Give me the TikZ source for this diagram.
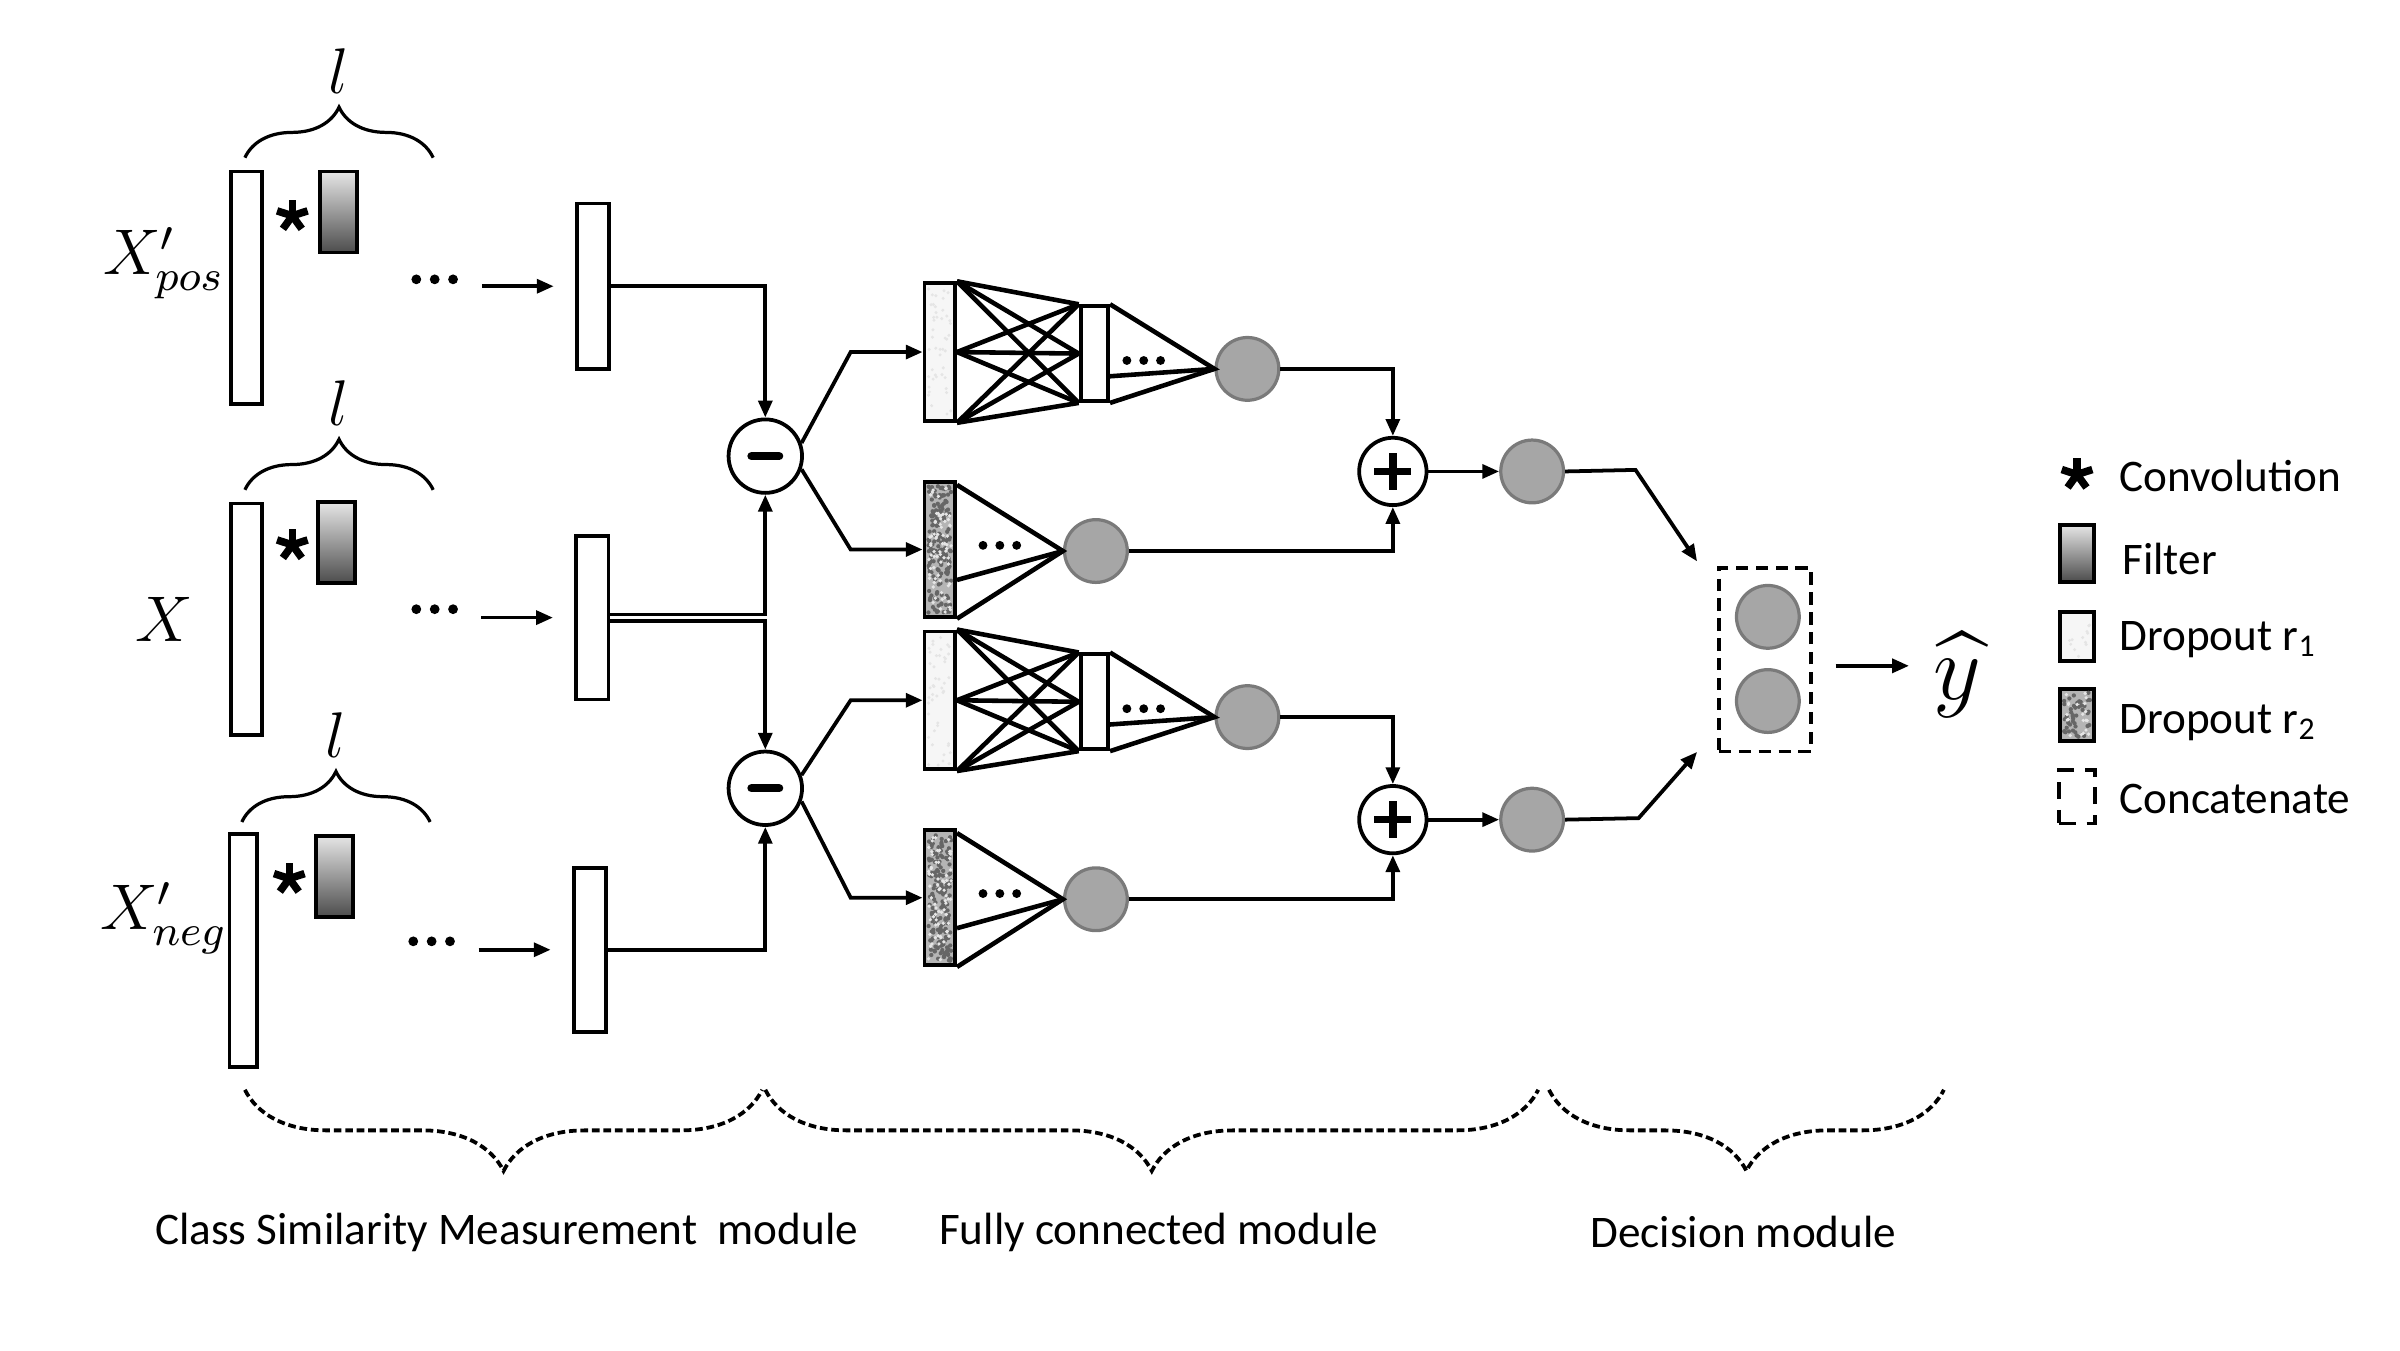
\documentclass[tikz,border=0pt]{standalone}
\usepackage{amsmath}
\usepackage{fontspec}
\setmainfont{Carlito}
\usetikzlibrary{arrows.meta,calc,positioning}
\usetikzlibrary{decorations.pathreplacing}

\definecolor{unitfill}{HTML}{A6A6A6}
\definecolor{unitedge}{HTML}{7A7A7A}

\tikzset{
  line/.style={line width=0.7pt},
  fcline/.style={line width=0.85pt},
  arr/.style={line width=0.7pt,-{Triangle[length=1.1mm,width=0.9mm]}},
  vecbar/.style={draw,line width=0.7pt,fill=white,inner sep=0pt,minimum width=2mm},
  filterbar/.style={draw,line width=0.7pt,top color=gray!20,bottom color=black!70,inner sep=0pt,minimum width=2.4mm,minimum height=5.3mm},
  dropone/.style={vecbar,fill=gray!7},
  droptwo/.style={vecbar,fill=gray!58},
  op/.style={circle,draw,line width=0.7pt,fill=white,inner sep=0pt,minimum size=4.8mm},
  unit/.style={circle,draw=unitedge,line width=0.6pt,fill=unitfill,inner sep=0pt,minimum size=4.1mm},
  lbl/.style={font=\fontsize{8.4}{10}\selectfont,inner sep=0pt},
  mathlbl/.style={font=\fontsize{11.5}{13}\selectfont,inner sep=0pt},
  dashbrace/.style={line width=0.7pt,dash pattern=on 0.5mm off 0.25mm,decorate,decoration={brace,mirror,amplitude=5.3mm}}
}

% asterisk for the convolution
\newcommand{\convstar}[1]{\foreach \a in {-90,-18,54,126,198} \draw[line width=1.4pt] (#1) -- ++(\a:10.5);}
% texture of a dropout bar: x, y, width, height, colour, count, dot radius
\newcommand{\speckle}[7]{\foreach \k in {1,...,#6} \fill[#5] ({#1+2.5+rnd*(#3-5)},{#2+2.5+rnd*(#4-5)}) circle (#7);}

\begin{document}
\begin{tikzpicture}[x=0.1mm,y=-0.1mm]
  \pgfmathsetseed{11}
  \useasboundingbox (0,0) rectangle (1568,882);

  %% inputs and convolution
  \node[mathlbl] (lblpos) at (107,172) {$X'_{pos}$};
  \node[mathlbl] (lblx) at (107,405) {$X$};
  \node[mathlbl] (lblneg) at (107,600) {$X'_{neg}$};

  \node[vecbar, minimum height=15.2mm] (barpos) at (161,188) {};
  \node[vecbar, minimum height=15.1mm] (barx) at (161,404.5) {};
  \node[vecbar, minimum width=1.8mm, minimum height=15.2mm] (barneg) at (159,621) {};

  \node[filterbar] (filpos) at (221,138.5) {};
  \node[filterbar] (filx) at (220,354.5) {};
  \node[filterbar] (filneg) at (218.5,572.5) {};

  \convstar{191,141}
  \convstar{191,356}
  \convstar{189,574}

  \draw[line width=0.6pt,decorate,decoration={brace,amplitude=3.3mm}] (160,103) -- (283,103)
        node[mathlbl, midway, above=4.1mm] (lenpos) {$l$};
  \draw[line width=0.6pt,decorate,decoration={brace,amplitude=3.3mm}] (160,320) -- (283,320)
        node[mathlbl, midway, above=4.1mm] (lenx) {$l$};
  \draw[line width=0.6pt,decorate,decoration={brace,amplitude=3.3mm}] (158,537) -- (281,537)
        node[mathlbl, midway, above=4.1mm] (lenneg) {$l$};

  \foreach \d in {272,284,296}
  {
    \fill (\d,182.5) circle (3.2);
    \fill (\d,398) circle (3.2);
    \fill (\d-2,615) circle (3.2);
  }

  \node[vecbar, minimum width=2.1mm, minimum height=10.8mm] (convpos) at (387.5,187) {};
  \node[vecbar, minimum width=2.1mm, minimum height=10.7mm] (convx) at (387,403.5) {};
  \node[vecbar, minimum width=2.1mm, minimum height=10.7mm] (convneg) at (385.5,620.5) {};

  \foreach \r in {pos,x,neg}
    \draw[arr] ($(conv\r.west)+(-61,0)$) -- ($(conv\r.west)+(-14,0)$);

  %% difference
  \node[op] (minus1) at (500,298) {};
  \node[op] (minus2) at (500,515) {};
  \foreach \m in {1,2}
    \draw[line width=0.55mm, line cap=round] ($(minus\m)+(-9,0)$) -- ($(minus\m)+(9,0)$);

  \draw[arr] (convpos.east) -| (minus1.north);
  \draw[arr] ($(convx.east)+(0,-2)$) -| (minus1.south);
  \draw[arr] ($(convx.east)+(0,2)$) -| (minus2.north);
  \draw[arr] (convneg.east) -| (minus2.south);

  %% fully connected
  \foreach \s/\dy in {1/0,2/227.5}
  {
    \node[dropone, minimum height=9mm] (drA\s) at (614,{230+\dy}) {};
    \speckle{604}{185+\dy}{20}{90}{gray!20}{45}{1.1}
    \node[vecbar, minimum width=1.8mm, minimum height=6.2mm] (hid\s) at (715,{231+\dy}) {};
    \node[unit] (outA\s) at (815,{241+\dy}) {};
    \node[droptwo, minimum height=8.8mm] (drB\s) at (614,{359+\dy}) {};
    \speckle{604}{315+\dy}{20}{88}{black!60}{170}{1.4}
    \speckle{604}{315+\dy}{20}{88}{gray!20}{70}{1.2}
    \node[unit] (outB\s) at (716,{360+\dy}) {};
    \node[op, minimum size=4.4mm] (plus\s) at (910,{308+\dy}) {};
    \node[unit] (sum\s) at (1001,{308+\dy}) {};

    \draw[arr] (minus\s.20) -- ($(drA\s.west)+(-47,0)$) -- (drA\s.west);
    \draw[arr] (minus\s.-20) -- ($(drB\s.west)+(-47,0)$) -- (drB\s.west);

    \foreach \a in {north east,east,south east}
      \foreach \b in {north west,west,south west}
        \draw[fcline] (drA\s.\a) -- (hid\s.\b);

    \draw[fcline] (hid\s.north east) -- (outA\s.west) -- (hid\s.south east);
    \draw[fcline] ($(hid\s.north east)!0.73!(hid\s.south east)$) -- (outA\s.west);
    \draw[fcline] ($(drB\s.north east)+(0,3)$) -- (outB\s.west) -- (drB\s.south east);
    \draw[fcline] ($(drB\s.north east)!0.72!(drB\s.south east)$) -- (outB\s.west);
    \foreach \d in {11,22,33}
      \fill ($(hid\s.north east)!0.57!(hid\s.south east)+(\d,0)$) circle (2.9);
    \foreach \d in {17,28,39}
      \fill ($(drB\s.north east)!0.47!(drB\s.south east)+(\d,0)$) circle (2.9);

    \draw[line width=0.5mm] ($(plus\s)+(-12,0)$) -- ($(plus\s)+(12,0)$)
                            ($(plus\s)+(0,-12)$) -- ($(plus\s)+(0,12)$);
    \draw[arr] (outA\s.east) -| (plus\s.north);
    \draw[arr] (outB\s.east) -| (plus\s.south);
    \draw[arr] (plus\s.east) -- (sum\s.west);
  }

  %% decision
  \node[draw, line width=0.7pt, dash pattern=on 0.8mm off 0.5mm, minimum width=6mm, minimum height=12mm] (cat) at (1153,431) {};
  \node[unit] (cat1) at (1155,403) {};
  \node[unit] (cat2) at (1155,458) {};
  \draw[arr] (sum1.east) -- ++(46,-1) -- ($(cat.north west)+(-13,-3)$);
  \draw[arr] (sum2.east) -- ++(48,-1) -- ($(cat.south west)+(-13,-1)$);
  \node[font=\fontsize{16.5}{18}\selectfont, inner sep=0pt] (yhat) at (1279,441) {$\widehat{y}$};
  \draw[arr] ($(cat.east)+(15,4)$) -- ++(48,0);

  %% legend
  \convstar{1357,310}
  \node[lbl, anchor=west] (legconv) at (1384,311) {Convolution};
  \node[filterbar, minimum width=2.2mm, minimum height=3.7mm] (legfil) at (1357,361.5) {};
  \node[lbl, anchor=west] (legfiltxt) at (1386,365) {Filter};
  \node[dropone, minimum width=2.2mm, minimum height=3.2mm] (legdrop1) at (1357,416) {};
  \speckle{1346}{400}{22}{32}{gray!20}{12}{1.1}
  \node[lbl, anchor=west] (legdrop1txt) at (1384,418) {Dropout r\textsubscript{1}};
  \node[droptwo, minimum width=2.2mm, minimum height=3.4mm] (legdrop2) at (1357,467) {};
  \speckle{1346}{450}{22}{34}{black!60}{45}{1.4}
  \speckle{1346}{450}{22}{34}{gray!20}{20}{1.2}
  \node[lbl, anchor=west] (legdrop2txt) at (1384,472) {Dropout r\textsubscript{2}};
  \node[draw, line width=0.7pt, dash pattern=on 1.1mm off 0.7mm, minimum width=2.2mm, minimum height=3.5mm] (legcat) at (1357,520.5) {};
  \node[lbl, anchor=west] (legcattxt) at (1384,522) {Concatenate};

  %% modules
  \draw[dashbrace] (160,712) -- (498,712);
  \draw[dashbrace] (500,712) -- (1005,712);
  \draw[dashbrace] (1012,712) -- (1270,712);
  \node[lbl] (modcsm) at (331,805) {Class Similarity Measurement\ \ module};
  \node[lbl] (modfc) at (757,805) {Fully connected module};
  \node[lbl] (moddec) at (1139,805) {Decision module};
\end{tikzpicture}
\end{document}
